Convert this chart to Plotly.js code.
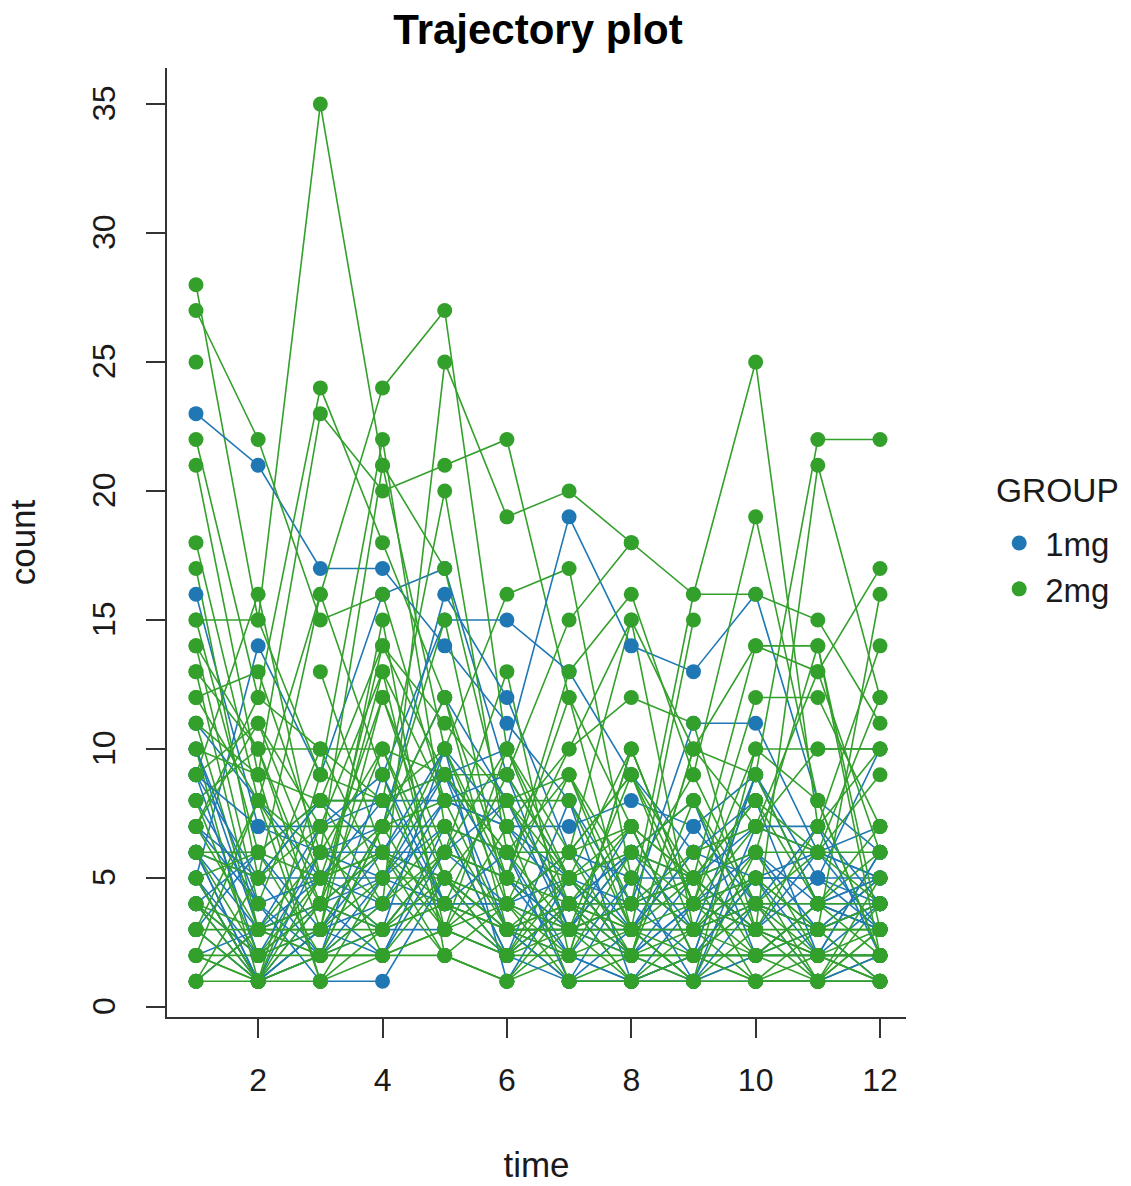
<!DOCTYPE html>
<html><head><meta charset="utf-8">
<script src="https://cdn.plot.ly/plotly-3.0.1.min.js"></script>
<style>html,body{margin:0;padding:0;background:#fff}#c{width:1131px;height:1186px}</style>
</head><body><div id="c"></div>
<script>
const _ = null;
const time = [1,2,3,4,5,6,7,8,9,10,11,12];
const xTicks = [2,4,6,8,10,12];
const yTicks = [0,5,10,15,20,25,30,35];
const b01=[23,21,17,17,14,11,8,4,5,3,2,2];
const b02=[16,7,7,8,8,7,7,8,7,9,5,5];
const b03=[5,14,9,16,17,9,3,2,1,1,1,1];
const b04=[10,3,4,6,9,10,19,14,13,16,8,6];
const b05=[7,4,2,9,15,15,13,9,6,5,5,4];
const b06=[5,2,3,7,16,12,6,3,7,4,3,4];
const b07=[6,1,6,6,5,3,2,1,4,4,4,4];
const b08=[4,6,8,8,4,4,5,4,11,11,6,5];
const b09=[9,5,5,4,4,4,3,7,2,2,2,4];
const b10=[3,1,3,6,6,5,2,5,5,6,4,3];
const b11=[11,8,5,5,9,3,3,3,3,5,5,10];
const b12=[8,4,1,1,5,2,4,2,4,6,3,1];
const b13=[1,3,4,2,7,6,1,5,3,9,4,5];
const b14=[5,1,2,4,8,7,4,6,5,3,5,3];
const b15=[4,2,4,3,10,1,5,3,6,8,2,6];
const b16=[6,5,2,5,7,2,8,1,1,7,7,2];
const b17=[3,6,3,4,4,3,1,1,2,4,3,5];
const b18=[2,3,5,3,6,8,3,4,4,5,6,5];
const b19=[9,7,6,7,12,8,4,6,8,2,3,4];
const b20=[6,1,2,3,3,2,1,3,1,2,4,3];
const b21=[5,1,4,5,4,6,2,1,2,5,2,6];
const b22=[4,1,3,2,6,4,6,5,1,4,1,2];
const b23=[9,2,6,5,8,9,5,2,5,7,6,7];
const b24=[10,4,5,8,9,5,3,6,3,4,7,4];
const b25=[6,3,7,9,4,2,4,4,2,9,4,5];
const b26=[7,5,8,6,10,7,5,2,4,3,6,3];
const g01=[28,15,35,21,10,16,17,5,9,4,2,1];
const g02=[27,22,15,16,8,8,8,3,6,2,4,6];
const g03=[25,_,_,_,_,_,_,_,_,_,_,_];
const g04=[21,9,23,20,21,22,12,7,5,8,4,3];
const g05=[22,12,24,18,12,3,1,1,1,6,2,2];
const g06=[18,8,16,24,27,10,5,2,8,4,6,9];
const g07=[17,5,8,4,25,19,20,18,16,16,15,11];
const g08=[15,15,9,22,7,2,6,9,3,1,3,5];
const g09=[_,_,13,6,5,3,4,1,2,5,1,4];
const g10=[14,4,10,10,4,9,15,18,_,_,_,_];
const g11=[13,3,3,3,6,5,13,16,9,19,8,2];
const g12=[12,13,6,21,17,7,10,12,11,3,1,1];
const g13=[11,3,2,2,2,1,2,10,4,12,12,7];
const g14=[10,1,1,5,10,4,9,4,16,25,7,10];
const g15=[9,16,5,12,6,5,3,6,5,3,21,12];
const g16=[8,10,4,14,9,6,5,7,2,9,22,22];
const g17=[7,11,7,7,3,10,4,3,15,_,_,_];
const g18=[6,6,2,7,15,4,6,2,10,7,13,17];
const g19=[5,1,9,8,20,6,3,9,4,10,10,10];
const g20=[4,2,4,13,3,7,1,1,1,2,3,16];
const g21=[3,3,3,7,12,5,12,3,5,1,1,2];
const g22=[2,1,3,12,5,8,9,5,3,6,6,6];
const g23=[1,1,7,13,8,3,5,6,4,4,4,4];
const g24=[1,5,16,9,3,2,2,2,2,2,2,2];
const g25=[2,8,4,10,9,9,5,10,4,5,3,1];
const g26=[10,9,8,8,10,5,4,4,5,8,6,12];
const g27=[12,8,6,4,6,13,2,6,8,3,7,14];
const g28=[7,12,10,5,5,4,3,4,4,7,10,10];
const g29=[9,11,5,6,2,1,4,3,1,10,8,2];
const g30=[5,6,5,7,7,6,6,7,5,14,13,6];
const g31=[8,2,2,3,4,3,4,7,2,1,1,3];
const g32=[13,10,10,8,9,6,9,3,3,3,3,3];
const g33=[4,3,6,10,5,2,3,1,2,1,2,1];
const g34=[15,6,8,14,11,8,5,2,10,9,4,7];
const g35=[11,9,1,2,3,5,10,15,3,4,1,5];
const g36=[3,8,1,3,6,10,6,9,5,6,14,2];
const g37=[1,3,2,7,8,8,4,2,3,5,3,3];
const g38=[2,2,5,6,4,3,3,3,2,2,1,1];
const g39=[14,10,3,15,2,1,3,4,6,7,6,4];
const g40=[6,5,7,2,3,4,2,10,4,2,2,2];
const g41=[7,3,4,3,5,4,6,15,10,14,14,3];
const g42=[4,1,5,3,4,2,5,3,1,3,2,3];
const g43=[3,1,2,4,7,3,3,2,2,4,3,4];
const g44=[2,1,4,6,3,2,4,1,3,2,4,2];
const g45=[6,2,3,5,2,4,1,2,1,1,1,3];
const g46=[5,1,2,2,5,3,2,3,4,3,2,1];
const blueRows=[b01,b02,b03,b04,b05,b06,b07,b08,b09,b10,b11,b12,b13,b14,b15,b16,b17,b18,b19,b20,b21,b22,b23,b24,b25,b26];
const greenRows=[g01,g02,g03,g04,g05,g06,g07,g08,g09,g10,g11,g12,g13,g14,g15,g16,g17,g18,g19,g20,g21,g22,g23,g24,g25,g26,g27,g28,g29,g30,g31,g32,g33,g34,g35,g36,g37,g38,g39,g40,g41,g42,g43,g44,g45,g46];
const groupNames=['1mg','2mg'];
const legendTitle='GROUP';
const BLUE='#1f78b4', GREEN='#33a02c', FONT='"Liberation Sans", Arial, sans-serif', INK='#1a1a1a';
const base=(y)=>({x:time,y:y,type:'scatter',showlegend:false,hoverinfo:'skip',connectgaps:false});
const lineTrace=(y,c)=>({...base(y),mode:'lines',line:{color:c,width:1.6}});
const dotTrace=(y,c)=>({...base(y),mode:'markers',marker:{color:c,size:15}});
const keyTrace=(n,c)=>({x:[_],y:[_],type:'scatter',mode:'markers',name:n,marker:{color:c,size:15}});
const lines=[];
const maxRows=Math.max(blueRows.length,greenRows.length);
for(let i=0;i<maxRows;i++){
  if(greenRows[i]) lines.push(lineTrace(greenRows[i],GREEN));
  if(blueRows[i]) lines.push(lineTrace(blueRows[i],BLUE));
}
const data=[...lines,...blueRows.map(r=>dotTrace(r,BLUE)),...greenRows.map(r=>dotTrace(r,GREEN)),
  keyTrace(groupNames[0],BLUE),keyTrace(groupNames[1],GREEN)];
const axis={showgrid:false,zeroline:false,showline:true,linecolor:'#333',linewidth:2,ticks:'outside',
  ticklen:19,tickwidth:2,tickcolor:'#333',tickfont:{family:FONT,size:32,color:INK}};
const layout={width:1131,height:1186,paper_bgcolor:'#fff',plot_bgcolor:'#fff',showlegend:true,
  margin:{l:167,r:225,t:68,b:169,pad:0},
  title:{text:'<b>Trajectory plot</b>',x:538/1131,xref:'container',xanchor:'center',y:0.975,yanchor:'middle',font:{family:FONT,size:42,color:'#000'}},
  xaxis:{...axis,range:[0.534,12.418],tickmode:'array',tickvals:xTicks,ticklabelstandoff:15,
    title:{text:'time',standoff:55,font:{family:FONT,size:35,color:INK}}},
  yaxis:{...axis,range:[-0.388,36.4],tickmode:'array',tickvals:yTicks,tickangle:-90,ticklabelstandoff:18,ticklabelshift:4,
    title:{text:'count',standoff:40,font:{family:FONT,size:35,color:INK}}},
  legend:{x:1.118,xanchor:'left',y:0.529,yanchor:'top',bgcolor:'rgba(0,0,0,0)',itemsizing:'trace',itemwidth:42,
    font:{family:FONT,size:33,color:INK}},
  annotations:[{text:legendTitle,xref:'paper',yref:'paper',x:1.123,y:0.5543,xanchor:'left',yanchor:'middle',showarrow:false,
    xshift:-3,font:{family:FONT,size:33.5,color:INK}}]
};
Plotly.newPlot('c',data,layout,{displayModeBar:false,staticPlot:true});
</script></body></html>
